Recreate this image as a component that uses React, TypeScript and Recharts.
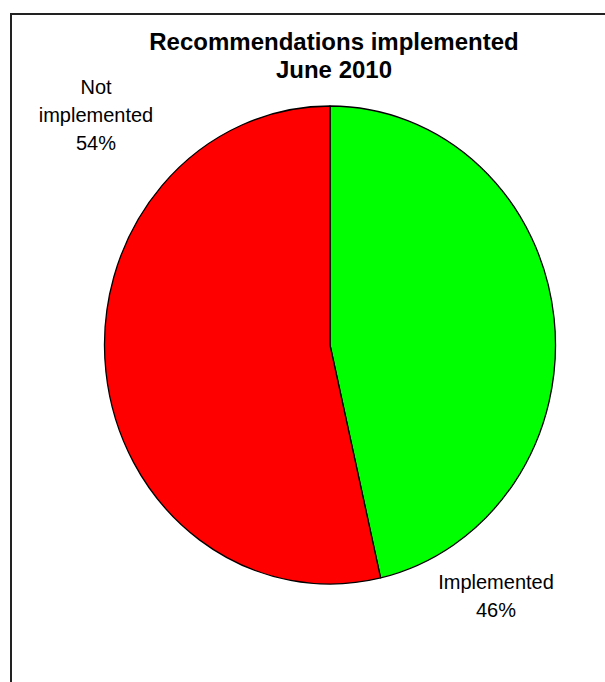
import React from 'react';
import { PieChart, Pie, Cell } from 'recharts';

const TITLE_LINES = ['Recommendations implemented', 'June 2010'];
const CATEGORIES = ['Implemented', 'Not implemented'];
const VALUES = [46.4, 53.6];
const COLORS = ['#00FF00', '#FF0000'];

const data = CATEGORIES.map((name, i) => ({ name, value: VALUES[i] }));

// the original picture is a slightly squashed circle
const Y_STRETCH = 239 / 225.5;
const FONT = '"Liberation Sans", Arial, sans-serif';

// where Excel put each label (centre x, first baseline) and whether it wraps
const LABEL_BOX = [
  { x: 496, y: 589, wrap: false },
  { x: 96, y: 94, wrap: true },
];

const EllipseSector = (props: any) => {
  const { cx, cy, outerRadius, startAngle, endAngle, fill } = props;
  const rad = Math.PI / 180;
  const rx = outerRadius;
  const ry = outerRadius * Y_STRETCH;
  const x1 = cx + rx * Math.cos(startAngle * rad);
  const y1 = cy - ry * Math.sin(startAngle * rad);
  const x2 = cx + rx * Math.cos(endAngle * rad);
  const y2 = cy - ry * Math.sin(endAngle * rad);
  const large = Math.abs(endAngle - startAngle) > 180 ? 1 : 0;
  const sweep = startAngle > endAngle ? 1 : 0;
  return (
    <path
      d={`M${cx},${cy} L${x1},${y1} A${rx},${ry} 0 ${large} ${sweep} ${x2},${y2} Z`}
      fill={fill}
      stroke="#000"
      strokeWidth={1.3}
      strokeLinejoin="round"
    />
  );
};

const renderLabel = (props: any) => {
  const { index, name, percent } = props;
  const box = LABEL_BOX[index];
  const lines = box.wrap ? name.split(' ') : [name];
  lines.push(`${Math.round(percent * 100)}%`);
  return (
    <text
      x={box.x}
      y={box.y}
      textAnchor="middle"
      fontFamily={FONT}
      fontSize={20}
      fill="#000"
    >
      {lines.map((l: string, i: number) => (
        <tspan key={i} x={box.x} dy={i === 0 ? 0 : 28}>
          {l}
        </tspan>
      ))}
    </text>
  );
};

const App: React.FC = () => {
  return (
    <div
      style={{
        position: 'absolute',
        left: 0,
        top: 0,
        width: 605,
        height: 682,
        overflow: 'hidden',
        background: '#fff',
      }}
    >
      {/* chart frame: only the top and left edges show */}
      <div
        style={{
          position: 'absolute',
          left: 10,
          top: 13,
          width: 700,
          height: 800,
          borderLeft: '2px solid #222',
          borderTop: '2px solid #222',
        }}
      />
      <div
        style={{
          position: 'absolute',
          left: 0,
          top: 28,
          width: 668,
          textAlign: 'center',
          fontFamily: FONT,
          fontWeight: 'bold',
          fontSize: 24,
          lineHeight: '28px',
          color: '#000',
        }}
      >
        {TITLE_LINES.map((t) => (
          <div key={t}>{t}</div>
        ))}
      </div>
      <div style={{ position: 'absolute', left: 0, top: 0 }}>
        <PieChart width={605} height={682} margin={{ top: 0, right: 0, bottom: 0, left: 0 }}>
          <Pie
            data={data}
            dataKey="value"
            nameKey="name"
            cx={330}
            cy={345}
            outerRadius={225.5}
            startAngle={90}
            endAngle={-270}
            stroke="#000"
            shape={EllipseSector}
            activeShape={EllipseSector}
            inactiveShape={EllipseSector}
            label={renderLabel}
            labelLine={false}
            isAnimationActive={false}
          >
            {data.map((d, i) => (
              <Cell key={d.name} fill={COLORS[i]} />
            ))}
          </Pie>
        </PieChart>
      </div>
    </div>
  );
};

export default App;
